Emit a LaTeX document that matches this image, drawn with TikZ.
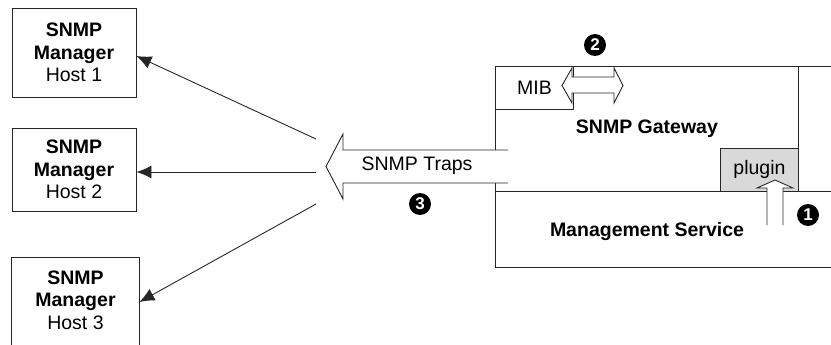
\documentclass[tikz,border=0pt]{standalone}
\usepackage{fontspec}
\setmainfont{Liberation Sans}
\usetikzlibrary{arrows.meta}
\newcommand\myfs{\fontsize{19.5}{22.5}\selectfont}
\begin{document}
\begin{tikzpicture}[x=1pt,y=-1pt,
  every node/.style={font=\myfs},
  ln/.style={line width=0.9pt, draw=black!85},
  mgr/.style={ln, draw, minimum width=124pt, inner sep=0pt, align=center},
  box/.style={ln, draw, inner sep=0pt, anchor=north west},
  num/.style={circle, fill=black, text=white, minimum size=22pt, inner sep=0pt, font=\fontsize{17}{17}\selectfont\bfseries},
  conn/.style={ln, -{Latex[length=15pt,width=13pt]}},
  fat/.style={ln, fill=white, line join=miter}
]
\useasboundingbox (0,0) rectangle (831,345);

% SNMP managers
\node[mgr, minimum height=89pt] (m1) at (74,52.5) {\textbf{SNMP}\\\textbf{Manager}\\Host 1};
\node[mgr, minimum height=83pt] (m2) at (74,169.5) {\textbf{SNMP}\\\textbf{Manager}\\Host 2};
\node[mgr, minimum width=127pt, minimum height=84pt, draw=none] (m3) at (75.5,300) {\textbf{SNMP}\\\textbf{Manager}\\Host 3};
\draw[ln] ([yshift=-8pt]m3.south west) -- (m3.north west) -- (m3.north east) -- ([yshift=-8pt]m3.south east);

% system boxes
\node[box, minimum width=345pt, minimum height=201pt] (frame) at (495,66) {};
\node[box, minimum width=303pt, minimum height=125pt, font=\myfs\bfseries] (gw) at (495,66) {SNMP Gateway};
\node[box, minimum width=345pt, minimum height=76pt] (ms) at (495,191) {};
\node[font=\myfs\bfseries] (mslabel) at (647,232) {Management Service};
\node[box, minimum width=78pt, minimum height=43pt] (mib) at (495,66) {MIB};
\node[box, fill=gray!30, minimum width=78pt, minimum height=43pt] (plugin) at (720,148) {plugin};

% SNMP traps arrow
\fill[white] (508,150) -- (343,150) -- (343,134) -- (326,166.5) -- (343,199) -- (343,183) -- (508,183) -- cycle;
\draw[ln, line join=miter] (508,150) -- (343,150) -- (343,134) -- (326,166.5) -- (343,199) -- (343,183) -- (508,183);
\node (traps) at (417,166) {SNMP Traps};

% MIB double arrow
\draw[fat] (562,85.5) -- (572,68) -- (572,77) -- (614,77) -- (614,68) -- (623,85.5) -- (614,103) -- (614,93) -- (572,93) -- (572,103) -- cycle;

% plugin up arrow
\fill[white] (767,225) -- (767,188) -- (757,188) -- (775,180) -- (793,188) -- (783,188) -- (783,225) -- cycle;
\draw[ln, line join=miter] (767,225) -- (767,188) -- (757,188) -- (775,180) -- (793,188) -- (783,188) -- (783,225);

% connectors to managers
\coordinate (s1) at (316,139);
\coordinate (s2) at (316,172);
\coordinate (s3) at (316,204);
\draw[conn] (s1) -- ([yshift=-3.5pt]m1.east);
\draw[conn] (s2) -- (m2.east |- s2);
\draw[conn] (s3) -- ([yshift=-2pt]m3.east);

% step numbers
\node[num] (n1) at (808,215) {1};
\node[num] (n2) at (595,45) {2};
\node[num] (n3) at (420,204) {3};
\end{tikzpicture}
\end{document}
